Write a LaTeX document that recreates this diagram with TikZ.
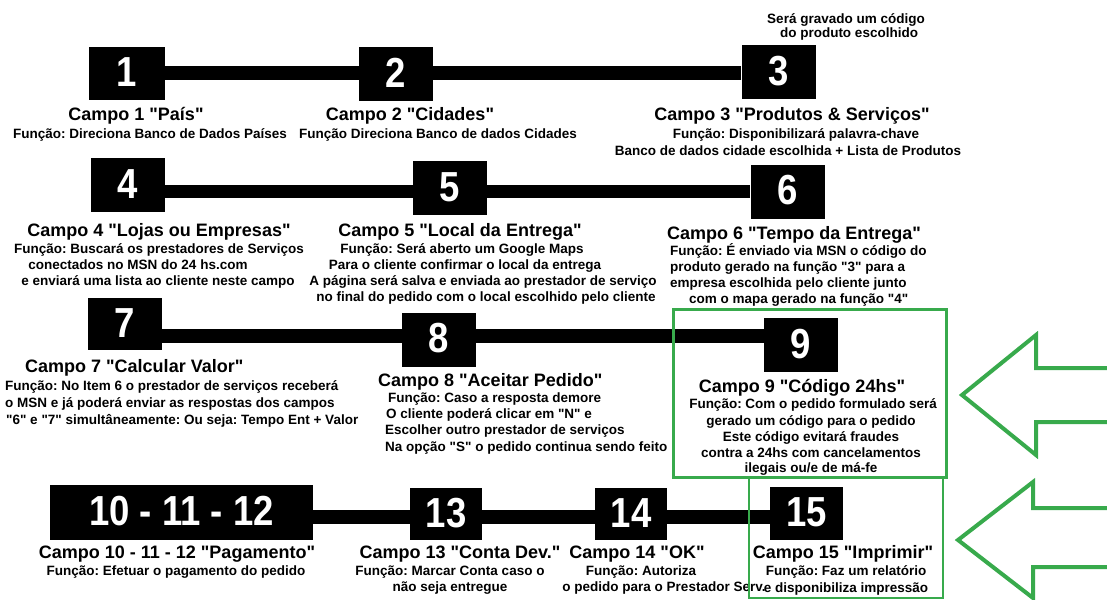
\documentclass[tikz,border=0pt]{standalone}
\usepackage{fontspec}
\newfontfamily\lib{Liberation Sans}
\usepackage{graphicx}
\usetikzlibrary{backgrounds}
\definecolor{grn}{RGB}{56,170,76}
\newcommand{\numtxt}[1]{\raisebox{2.5pt}{\scalebox{0.87}[1]{#1}}}
\frenchspacing
\begin{document}
\begin{tikzpicture}[x=1pt,y=-1pt,
  numbox/.style={fill=black, inner sep=0pt, minimum width=74pt, minimum height=54pt, text=white,
    font=\lib\bfseries\fontsize{42}{42}\selectfont},
  ttl/.style={font=\lib\bfseries\fontsize{18}{20}\selectfont, inner sep=0pt, anchor=base},
  sub/.style={font=\lib\bfseries\fontsize{13.5}{16}\selectfont, inner sep=0pt, anchor=base},
  ttlw/.style={ttl, anchor=base west},
  subw/.style={sub, anchor=base west},
  bar/.style={line width=13.5pt},
  gbox/.style={draw=grn, line width=3pt},
  garrow/.style={draw=grn, line width=4pt, line join=miter}]
\useasboundingbox (0,0) rectangle (1107,599);

% ---------- boxes ----------
\node[numbox, minimum width=76pt, minimum height=53pt] (b1) at (127,73.5) {\numtxt{1}};
\node[numbox] (b2) at (395.5,74) {\numtxt{2}};
\node[numbox] (b3) at (778.5,72.5) {\numtxt{3}};
\node[numbox] (b4) at (128,185) {\numtxt{4}};
\node[numbox] (b5) at (449.5,188) {\numtxt{5}};
\node[numbox] (b6) at (787.5,191.5) {\numtxt{6}};
\node[numbox, minimum height=52pt] (b7) at (125,324) {\numtxt{7}};
\node[numbox] (b8) at (438.5,339.5) {\numtxt{8}};
\node[numbox] (b9) at (801,345) {\numtxt{9}};
\node[numbox, minimum width=263pt, minimum height=55pt] (b10) at (181.5,512.5) {\numtxt{10 - 11 - 12}};
\node[numbox, minimum width=72pt, minimum height=52pt] (b13) at (446,514) {\numtxt{13}};
\node[numbox, minimum width=72pt, minimum height=52pt] (b14) at (631,514) {\numtxt{14}};
\node[numbox, minimum width=73pt, minimum height=53pt] (b15) at (806.5,513.5) {\numtxt{15}};

\coordinate (r1) at (0,73);
\coordinate (r2) at (0,191.5);
\coordinate (r3) at (0,336);
\coordinate (r4) at (0,517);
\begin{scope}[on background layer]
\draw[bar] (b1.east |- r1) -- (b3.west |- r1);
\draw[bar] (b4.east |- r2) -- (b6.west |- r2);
\draw[bar] (b7.east |- r3) -- (b9.west |- r3);
\draw[bar] (b10.east |- r4) -- (b15.west |- r4);
\end{scope}

% ---------- row 1 ----------
\node[ttl] (t1) at (136,121) {Campo 1 "País"};
\node[sub] (s1) at (150,139) {Função: Direciona Banco de Dados Países};
\node[ttl] (t2) at (410,121) {Campo 2 "Cidades"};
\node[sub] (s2) at (438,139) {Função Direciona Banco de dados Cidades};
\node[sub] (n3a) at (846,24) {Será gravado um código};
\node[sub] (n3b) at (849,38) {do produto escolhido};
\node[ttl] (t3) at (792,121) {Campo 3 "Produtos \& Serviços"};
\node[sub] (s3a) at (796,139) {Função: Disponibilizará palavra-chave};
\node[sub] (s3b) at (788,155) {Banco de dados cidade escolhida + Lista de Produtos};

% ---------- row 2 ----------
\node[ttl] (t4) at (159,236) {Campo 4 "Lojas ou Empresas"};
\node[sub] (s4a) at (159,253) {Função: Buscará os prestadores de Serviços};
\node[sub] (s4b) at (138,269) {conectados no MSN do 24 hs.com};
\node[sub] (s4c) at (158,285) {e enviará uma lista ao cliente neste campo};
\node[ttl] (t5) at (460,236) {Campo 5 "Local da Entrega"};
\node[sub] (s5a) at (462,253) {Função: Será aberto um Google Maps};
\node[sub] (s5b) at (465,269) {Para o cliente confirmar o local da entrega};
\node[sub] (s5c) at (483,285) {A página será salva e enviada ao prestador de serviço};
\node[sub] (s5d) at (486,301) {no final do pedido com o local escolhido pelo cliente};
\node[ttl] (t6) at (794,239) {Campo 6 "Tempo da Entrega"};
\node[subw] (s6a) at (670,255) {Função: É enviado via MSN o código do};
\node[subw] (s6b) at (670,271) {produto gerado na função "3" para a};
\node[subw] (s6c) at (670,287) {empresa escolhida pelo cliente junto};
\node[subw] (s6d) at (689,303) {com o mapa gerado na função "4"};

% ---------- row 3 ----------
\node[ttlw] (t7) at (25,372) {Campo 7 "Calcular Valor"};
\node[subw] (s7a) at (5,390) {Função: No Item 6 o prestador de serviços receberá};
\node[subw] (s7b) at (5,407) {o MSN e já poderá enviar as respostas dos campos};
\node[subw] (s7c) at (6,424) {"6" e "7" simultâneamente: Ou seja: Tempo Ent + Valor};
\node[ttlw] (t8) at (378,386) {Campo 8 "Aceitar Pedido"};
\node[subw] (s8a) at (388,402) {Função: Caso a resposta demore};
\node[subw] (s8b) at (386,418) {O cliente poderá clicar em "N" e};
\node[subw] (s8c) at (385,434) {Escolher outro prestador de serviços};
\node[subw] (s8d) at (385,451) {Na opção "S" o pedido continua sendo feito};
\node[ttl] (t9) at (802,392) {Campo 9 "Código 24hs"};
\node[sub] (s9a) at (813,408) {Função: Com o pedido formulado será};
\node[sub] (s9b) at (811,425) {gerado um código para o pedido};
\node[sub] (s9c) at (811,441) {Este código evitará fraudes};
\node[sub] (s9d) at (811,457) {contra a 24hs com cancelamentos};
\node[sub] (s9e) at (811,472) {ilegais ou/e de má-fe};

% ---------- row 4 ----------
\node[ttl] (t10) at (177,558) {Campo 10 - 11 - 12 "Pagamento"};
\node[sub] (s10) at (176,575) {Função: Efetuar o pagamento do pedido};
\node[ttl] (t13) at (460,558) {Campo 13 "Conta Dev."};
\node[sub] (s13a) at (450,575) {Função: Marcar Conta caso o};
\node[sub] (s13b) at (450,591) {não seja entregue};
\node[ttl] (t14) at (637,558) {Campo 14 "OK"};
\node[sub] (s14a) at (641,575) {Função: Autoriza};
\node[sub] (s14b) at (664,591) {o pedido para o Prestador Serv.};
\node[ttl] (t15) at (843,558) {Campo 15 "Imprimir"};
\node[sub] (s15a) at (846,575) {Função: Faz um relatório};
\node[sub] (s15b) at (846,592) {e disponibiliza impressão};

% ---------- green frames and arrows ----------
\draw[gbox] (673,309) rectangle (946,477);
\draw[gbox, line width=2.2pt] (749,478) rectangle (943,598);
\draw[garrow] (1110,368) -- (1036,368) -- (1036,335) -- (962,395) -- (1036,455) -- (1036,422) -- (1110,422);
\draw[garrow] (1110,508) -- (1033,508) -- (1033,482) -- (958,540) -- (1033,598) -- (1033,567) -- (1110,567);
\end{tikzpicture}
\end{document}
